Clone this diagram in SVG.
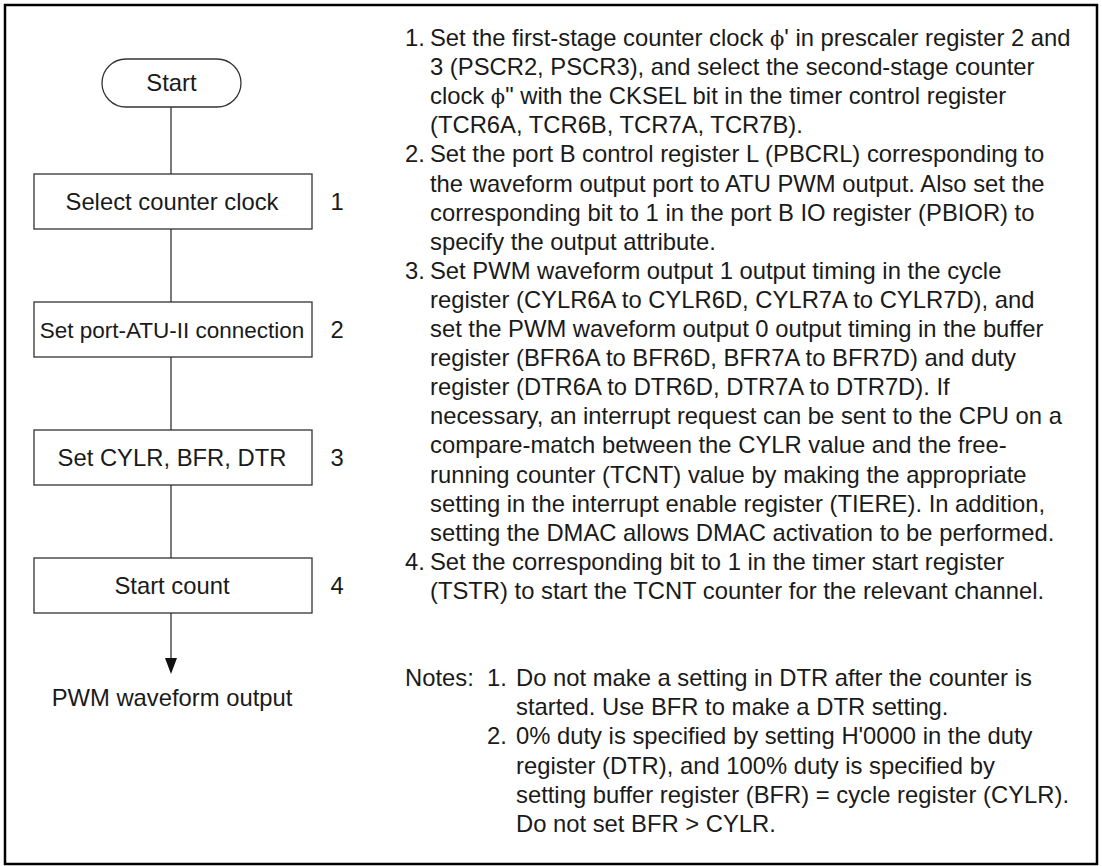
<svg xmlns="http://www.w3.org/2000/svg" width="1102" height="866" viewBox="0 0 1102 866">
  <defs>
    <style>
      .t { font-family: "Liberation Sans", Arial, sans-serif; font-size: 23.8px; fill: #1a1a1a; }
      .c { text-anchor: middle; }
      .phi { font-family: "DejaVu Serif", "Liberation Serif", serif; font-size: 21px; }
      .box { fill: #ffffff; stroke: #333333; stroke-width: 1.3; }
      .conn { fill: none; stroke: #333333; stroke-width: 1.3; }
    </style>
  </defs>
  <rect x="0" y="0" width="1102" height="866" fill="#ffffff"/>
  <rect x="5" y="5" width="1092" height="859" fill="none" stroke="#000000" stroke-width="2.5"/>

  <g id="connectors">
    <line class="conn" x1="171" y1="107" x2="171" y2="174"/>
    <line class="conn" x1="171" y1="229" x2="171" y2="302"/>
    <line class="conn" x1="171" y1="357" x2="171" y2="430"/>
    <line class="conn" x1="171" y1="485" x2="171" y2="558"/>
    <line class="conn" x1="171" y1="613" x2="171" y2="658"/>
    <path d="M165,658 L177,658 L171,674 Z" fill="#111111"/>
  </g>

  <g id="start">
    <rect class="box" x="102" y="59" width="139" height="48" rx="24" ry="24"/>
    <text class="t c" x="171.5" y="91">Start</text>
  </g>
  <g id="step1">
    <rect class="box" x="34" y="174" width="278" height="55"/>
    <text class="t c" x="172" y="210">Select counter clock</text>
    <text class="t c" x="337" y="210">1</text>
  </g>
  <g id="step2">
    <rect class="box" x="34" y="302" width="278" height="55"/>
    <text class="t c" x="172" y="338" style="font-size:22.5px">Set port-ATU-II connection</text>
    <text class="t c" x="337" y="338">2</text>
  </g>
  <g id="step3">
    <rect class="box" x="34" y="430" width="278" height="55"/>
    <text class="t c" x="172" y="466">Set CYLR, BFR, DTR</text>
    <text class="t c" x="337" y="466">3</text>
  </g>
  <g id="step4">
    <rect class="box" x="34" y="558" width="278" height="55"/>
    <text class="t c" x="172" y="594">Start count</text>
    <text class="t c" x="337" y="594">4</text>
  </g>
  <g id="end">
    <text class="t c" x="172" y="706">PWM waveform output</text>
  </g>

  <g id="description">
    <text class="t" x="405" y="46">1.</text>
    <text class="t" x="430" y="46">Set the first-stage counter clock <tspan class="phi">ϕ</tspan>' in prescaler register 2 and</text>
    <text class="t" x="430" y="75.1">3 (PSCR2, PSCR3), and select the second-stage counter</text>
    <text class="t" x="430" y="104.2">clock <tspan class="phi">ϕ</tspan>" with the CKSEL bit in the timer control register</text>
    <text class="t" x="430" y="133.3">(TCR6A, TCR6B, TCR7A, TCR7B).</text>
    <text class="t" x="405" y="162.4">2.</text>
    <text class="t" x="430" y="162.4">Set the port B control register L (PBCRL) corresponding to</text>
    <text class="t" x="430" y="191.5">the waveform output port to ATU PWM output. Also set the</text>
    <text class="t" x="430" y="220.6">corresponding bit to 1 in the port B IO register (PBIOR) to</text>
    <text class="t" x="430" y="249.7">specify the output attribute.</text>
    <text class="t" x="405" y="278.8">3.</text>
    <text class="t" x="430" y="278.8">Set PWM waveform output 1 output timing in the cycle</text>
    <text class="t" x="430" y="307.9">register (CYLR6A to CYLR6D, CYLR7A to CYLR7D), and</text>
    <text class="t" x="430" y="337">set the PWM waveform output 0 output timing in the buffer</text>
    <text class="t" x="430" y="366.1">register (BFR6A to BFR6D, BFR7A to BFR7D) and duty</text>
    <text class="t" x="430" y="395.2">register (DTR6A to DTR6D, DTR7A to DTR7D). If</text>
    <text class="t" x="430" y="424.3">necessary, an interrupt request can be sent to the CPU on a</text>
    <text class="t" x="430" y="453.4">compare-match between the CYLR value and the free-</text>
    <text class="t" x="430" y="482.5">running counter (TCNT) value by making the appropriate</text>
    <text class="t" x="430" y="511.6">setting in the interrupt enable register (TIERE). In addition,</text>
    <text class="t" x="430" y="540.7">setting the DMAC allows DMAC activation to be performed.</text>
    <text class="t" x="405" y="569.8">4.</text>
    <text class="t" x="430" y="569.8">Set the corresponding bit to 1 in the timer start register</text>
    <text class="t" x="430" y="598.9">(TSTR) to start the TCNT counter for the relevant channel.</text>
  </g>

  <g id="notes">
    <text class="t" x="405" y="686.2">Notes:</text>
    <text class="t" x="487" y="686.2">1.</text>
    <text class="t" x="516" y="686.2">Do not make a setting in DTR after the counter is</text>
    <text class="t" x="516" y="715.3">started. Use BFR to make a DTR setting.</text>
    <text class="t" x="487" y="744.4">2.</text>
    <text class="t" x="516" y="744.4">0% duty is specified by setting H'0000 in the duty</text>
    <text class="t" x="516" y="773.5">register (DTR), and 100% duty is specified by</text>
    <text class="t" x="516" y="802.6">setting buffer register (BFR) = cycle register (CYLR).</text>
    <text class="t" x="516" y="831.7">Do not set BFR &gt; CYLR.</text>
  </g>
</svg>
